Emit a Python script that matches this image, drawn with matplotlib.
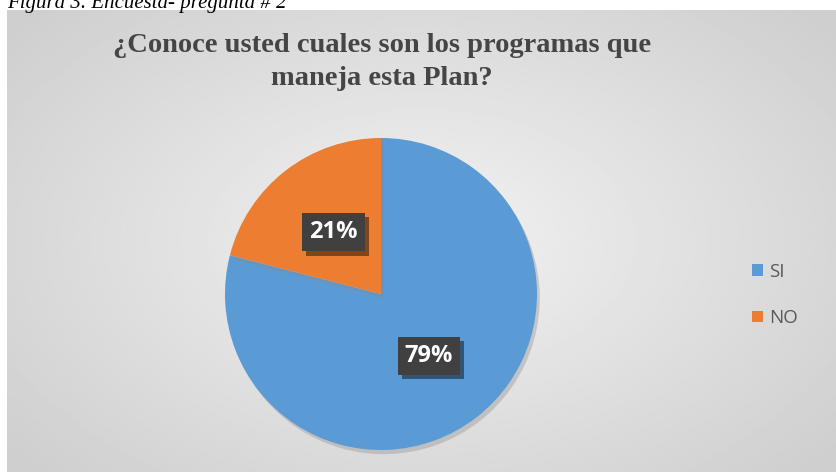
import numpy as np
import matplotlib
matplotlib.use("Agg")
import matplotlib.pyplot as plt
import matplotlib.patheffects as pe
from matplotlib.patches import Rectangle

labels = ["SI", "NO"]
values = [79, 21]
colors = ["#5b9bd5", "#ed7d31"]
title = "¿Conoce usted cuales son los programas que\nmaneja esta Plan?"
caption = "Figura 3. Encuesta- pregunta # 2"

W, H = 837, 472
fig = plt.figure(figsize=(W / 100, H / 100), dpi=100)
fig.patch.set_facecolor("white")


def px(x0, y0, w, h):
    # pixel box (top-left origin) -> figure fraction
    return [x0 / W, 1 - (y0 + h) / H, w / W, h / H]


# chart area with radial grey gradient
bg = fig.add_axes(px(7, 10, W - 7, H - 10))
yy, xx = np.mgrid[-1:1:200j, -1:1:300j]
r = np.sqrt(xx ** 2 + (yy * 0.9) ** 2)
bg.imshow(0.95 - 0.14 * np.clip(r / 1.3, 0, 1), cmap="gray", vmin=0, vmax=1,
          aspect="auto", extent=[0, 1, 0, 1], interpolation="bilinear")
bg.set_xlim(0, 1); bg.set_ylim(0, 1)
bg.axis("off")

fig.text(7 / W, 1 - 8 / H, caption, fontsize=15, style="italic",
         family="Liberation Serif", ha="left", va="baseline", color="black")

fig.text(382 / W, 1 - 62 / H, title, fontsize=20.5, fontweight="bold",
         family="Liberation Serif", color="#454545", ha="center", va="center",
         linespacing=1.42)

cx, cy, rad = 381, 294, 156
ax = fig.add_axes(px(cx - rad, cy - rad, 2 * rad, 2 * rad))
ax.set_aspect("equal")
wedges, texts, autotexts = ax.pie(
    values, colors=colors, startangle=90, counterclock=False,
    autopct="%d%%", pctdistance=0.5, radius=1,
    wedgeprops=dict(linewidth=0))
for w in wedges:
    w.set_path_effects([pe.SimplePatchShadow(offset=(2, -3), shadow_rgbFace="#888888", alpha=0.35),
                        pe.Normal()])
for t in autotexts:
    t.set_color("white")
    t.set_fontsize(17)
    t.set_fontweight("bold")
    t.set_family(["Open Sans", "DejaVu Sans"])
    t.set_bbox(dict(boxstyle="square,pad=0.3", facecolor="#404040", edgecolor="none"))
    t.get_bbox_patch().set_path_effects([
        pe.SimplePatchShadow(offset=(3, -3), shadow_rgbFace="black", alpha=0.45),
        pe.Normal()])
ax.set_xlim(-1, 1); ax.set_ylim(-1, 1)

handles = [Rectangle((0, 0), 1, 1, facecolor=c, edgecolor="none") for c in colors]
leg = fig.legend(handles, labels, loc="center left",
                 bbox_to_anchor=(735 / W, 1 - 295 / H), frameon=False,
                 handlelength=0.6, handleheight=0.6,
                 handletextpad=0.3, labelspacing=1.5,
                 prop={"family": ["Open Sans", "DejaVu Sans"], "size": 13.5})
for t in leg.get_texts():
    t.set_color("#595959")

fig.savefig("out.png", dpi=100)
